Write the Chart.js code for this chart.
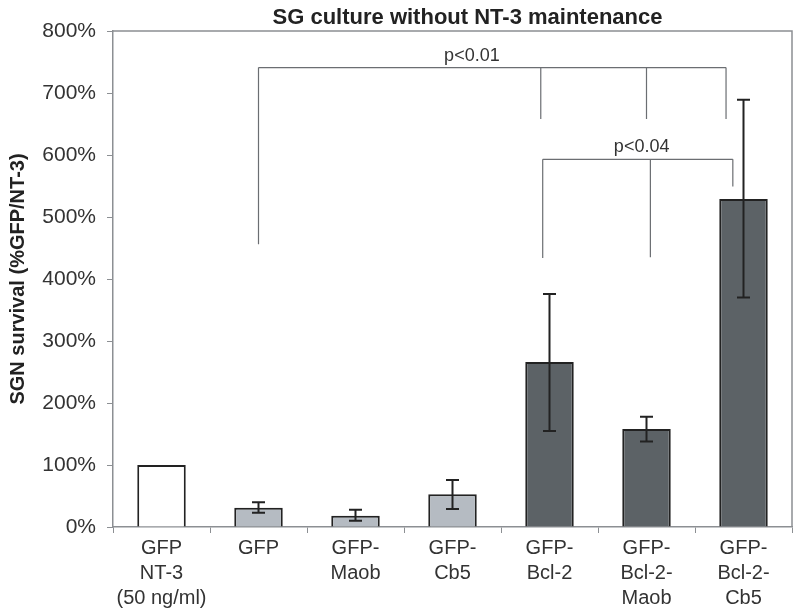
<!DOCTYPE html>
<html>
<head>
<meta charset="utf-8">
<script src="https://cdn.jsdelivr.net/npm/chart.js@4"></script>
<style>
  html, body { margin: 0; padding: 0; background: #fff; }
  #wrap { width: 800px; height: 613px; }
</style>
</head>
<body>
<div id="wrap"><canvas id="survival"></canvas></div>
<script>
// data
const groups = [
    ['GFP', 'NT-3', '(50 ng/ml)'],
    ['GFP'],
    ['GFP-', 'Maob'],
    ['GFP-', 'Cb5'],
    ['GFP-', 'Bcl-2'],
    ['GFP-', 'Bcl-2-', 'Maob'],
    ['GFP-', 'Bcl-2-', 'Cb5']
];
const survival = [100, 31, 18, 53, 266, 158, 529];
const errUp = [0, 9, 10, 23, 110, 20, 160];
const errDown = [0, 8, 8, 24, 111, 20, 159];
const barColors = ['#ffffff', '#b5bbc2', '#b5bbc2', '#b5bbc2', '#5c6266', '#5c6266', '#5c6266'];
const yTicks = [0, 100, 200, 300, 400, 500, 600, 700, 800];

// significance brackets: bar index where each leg sits, leg bottom value, shift in category units
const brackets = [
    { label: 'p<0.01', level: 741, legs: [[1, 456, 0], [4, 658, -0.09], [5, 658, 0], [6, 658, -0.18]], textAt: 3.2 },
    { label: 'p<0.04', level: 593, legs: [[4, 434, -0.07], [5, 435, 0.04], [6, 549, -0.11]], textAt: 4.95 }
];

const titleText = 'SG culture without NT-3 maintenance';

const extras = {
    id: 'extras',
    afterDatasetsDraw(chart) {
        const ctx = chart.ctx;
        const x = chart.scales.x, y = chart.scales.y;
        const area = chart.chartArea;

        // frame on top and right
        ctx.save();
        ctx.strokeStyle = '#8c8f93';
        ctx.lineWidth = 1.5;
        ctx.beginPath();
        ctx.moveTo(area.left, area.top);
        ctx.lineTo(area.right, area.top);
        ctx.lineTo(area.right, area.bottom);
        ctx.stroke();

        // error bars
        ctx.strokeStyle = '#222';
        ctx.lineWidth = 2;
        survival.forEach((v, i) => {
            if (!errUp[i] && !errDown[i]) return;
            const cx = x.getPixelForValue(i);
            const top = y.getPixelForValue(v + errUp[i]);
            const bot = y.getPixelForValue(v - errDown[i]);
            ctx.beginPath();
            ctx.moveTo(cx, top); ctx.lineTo(cx, bot);
            ctx.moveTo(cx - 6.5, top); ctx.lineTo(cx + 6.5, top);
            ctx.moveTo(cx - 6.5, bot); ctx.lineTo(cx + 6.5, bot);
            ctx.stroke();
        });

        // brackets
        ctx.strokeStyle = '#6b6e72';
        ctx.lineWidth = 1.2;
        ctx.fillStyle = '#333';
        ctx.font = '18px Arial, "Liberation Sans", sans-serif';
        ctx.textAlign = 'center';
        ctx.textBaseline = 'bottom';
        brackets.forEach(b => {
            const ly = y.getPixelForValue(b.level);
            const xs = b.legs.map(l => x.getPixelForValue(l[0] + l[2]));
            ctx.beginPath();
            ctx.moveTo(Math.min(...xs), ly);
            ctx.lineTo(Math.max(...xs), ly);
            b.legs.forEach((l, k) => {
                ctx.moveTo(xs[k], ly);
                ctx.lineTo(xs[k], y.getPixelForValue(l[1]));
            });
            ctx.stroke();
            ctx.fillText(b.label, x.getPixelForValue(b.textAt), ly - 3);
        });

        // title
        ctx.fillStyle = '#222';
        ctx.font = 'bold 22px Arial, "Liberation Sans", sans-serif';
        ctx.textBaseline = 'alphabetic';
        ctx.fillText(titleText, (area.left + area.right) / 2 + 15, 24);
        ctx.restore();
    }
};

const ctx = document.getElementById('survival').getContext('2d');
new Chart(ctx, {
    type: 'bar',
    data: {
        labels: groups,
        datasets: [{
            data: survival,
            backgroundColor: barColors,
            borderColor: '#222',
            borderWidth: 2,
            borderSkipped: 'bottom',
            barPercentage: 0.5,
            categoryPercentage: 1
        }]
    },
    options: {
        responsive: true,
        maintainAspectRatio: false,
        animation: false,
        layout: { padding: { top: 31, right: 8, left: 0, bottom: 0 } },
        plugins: {
            legend: { display: false },
            tooltip: { enabled: false }
        },
        scales: {
            x: {
                grid: { offset: true, drawOnChartArea: false, tickLength: 6, color: '#8c8f93' },
                border: { color: '#8c8f93', width: 1.5 },
                ticks: {
                    color: '#333',
                    font: { family: 'Arial, "Liberation Sans", sans-serif', size: 20, lineHeight: 1.25 },
                    maxRotation: 0,
                    autoSkip: false,
                    padding: 3
                },
                afterFit(scale) { scale.height = 86; }
            },
            y: {
                min: 0,
                max: 800,
                afterBuildTicks(scale) { scale.ticks = yTicks.map(v => ({ value: v })); },
                grid: { drawOnChartArea: false, tickLength: 6, color: '#8c8f93' },
                border: { color: '#8c8f93', width: 1.5 },
                ticks: {
                    color: '#333',
                    font: { family: 'Arial, "Liberation Sans", sans-serif', size: 21 },
                    padding: 11,
                    callback: v => v + '%'
                },
                title: {
                    display: true,
                    text: 'SGN survival (%GFP/NT-3)',
                    color: '#222',
                    font: { family: 'Arial, "Liberation Sans", sans-serif', size: 20, weight: 'bold' },
                    padding: { top: 6, bottom: 4 }
                },
                afterFit(scale) { scale.width = 113; }
            }
        }
    },
    plugins: [extras]
});
</script>
</body>
</html>
